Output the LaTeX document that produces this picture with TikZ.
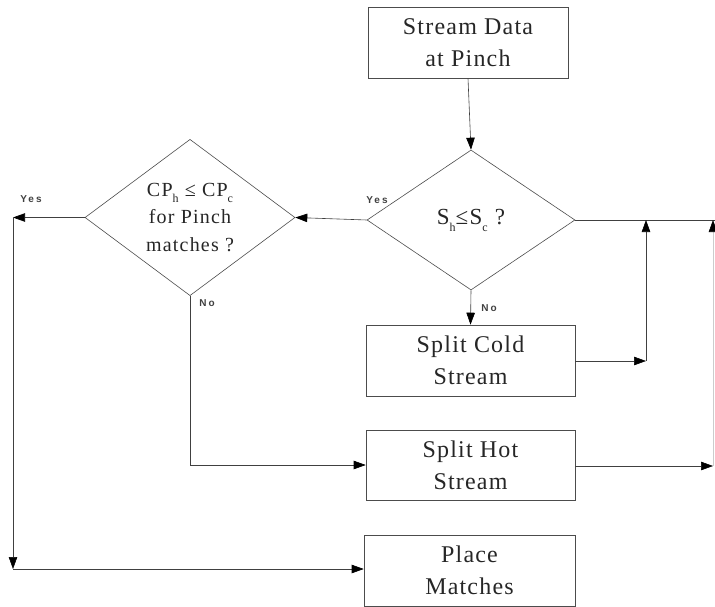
\documentclass[tikz,border=0pt]{standalone}
\usepackage{fontspec}
\setmainfont{Liberation Serif}
\newfontfamily\boxfont[LetterSpace=5]{Liberation Serif}
\newfontfamily\decfont[LetterSpace=6]{Liberation Serif}
\newfontfamily\tagfont[LetterSpace=20]{Liberation Sans}
\usetikzlibrary{shapes.geometric,arrows.meta}
% lowered small subscript
\newcommand\lowsub[2]{\raisebox{-#2}{\fontsize{12}{12}\selectfont #1}}
\begin{document}
\begin{tikzpicture}[x=1pt,y=-1pt,
  procbox/.style={draw=black!70, line width=0.6pt, rectangle, inner sep=0pt,
    align=center, font=\boxfont\fontsize{24}{32}\selectfont, text=black!85},
  decision/.style={draw=black!70, line width=0.6pt, diamond, inner sep=0pt,
    align=center, text=black!85},
  tag/.style={font=\tagfont\bfseries\fontsize{10}{11}\selectfont, text=black!75, inner sep=0pt},
  link/.style={draw=black!75, line width=0.6pt},
  tip/.style={-{Triangle[length=12pt,width=8.5pt,black]}},
  flow/.style={link, tip}]
  \useasboundingbox (0,0) rectangle (715,607);

  % process boxes
  \node[procbox, minimum width=200pt, minimum height=71pt] (data) at (468,42.5) {Stream Data\\at Pinch};
  \node[procbox, minimum width=209pt, minimum height=71pt] (cold) at (470.5,360.5) {Split Cold\\Stream};
  \node[procbox, minimum width=209pt, minimum height=70pt] (hot) at (470.5,465) {Split Hot\\Stream};
  \node[procbox, minimum width=211pt, minimum height=71pt] (place) at (469.5,570.5) {Place\\Matches};

  % decisions
  \node[decision, minimum width=208pt, minimum height=140pt,
    font=\decfont\fontsize{23}{28}\selectfont] (sdec) at (471,220)
    {S\lowsub{h}{7pt}≤S\lowsub{c}{7pt} ?};
  \node[decision, minimum width=210pt, minimum height=141pt,
    font=\decfont\fontsize{20}{27.5}\selectfont] (cpdec) at (190,217.5)
    {CP\lowsub{h}{6pt} ≤ CP\lowsub{c}{6pt}\\for Pinch\\matches ?};

  % junction points
  \coordinate (yl) at (13,217.5);
  \coordinate (yb) at (13,569);
  \coordinate (nb) at (190,465);
  \coordinate (cr) at (646,361);
  \coordinate (ct) at (646,220);
  \coordinate (hr) at (713,466);
  \coordinate (ht) at (713,220);
  \coordinate (rr) at (715,220);

  % connectors
  \draw[flow] (data.south) -- (sdec.north);
  \draw[flow] (sdec.west) -- (cpdec.east);
  \draw[flow] (sdec.south) -- (cold.north);
  \draw[link] (sdec.east) -- (rr);
  \draw[flow] (cpdec.west) -- (yl);
  \draw[flow] (yl) -- (yb);
  \draw[flow] (yb) -- (place.west |- yb);
  \draw[link] (cpdec.south) -- (nb);
  \draw[flow] (nb) -- (hot.west |- nb);
  \draw[flow] (cold.east |- cr) -- (cr);
  \draw[flow] (cr) -- (ct);
  \draw[flow] (hot.east |- hr) -- (hr);
  \draw[flow, draw=black!20] (hr) -- (ht);

  % branch labels
  \node[tag] (t1) at (31,199) {Yes};
  \node[tag] (t2) at (377,200) {Yes};
  \node[tag] (t3) at (489,308) {No};
  \node[tag] (t4) at (207,303) {No};
\end{tikzpicture}
\end{document}
